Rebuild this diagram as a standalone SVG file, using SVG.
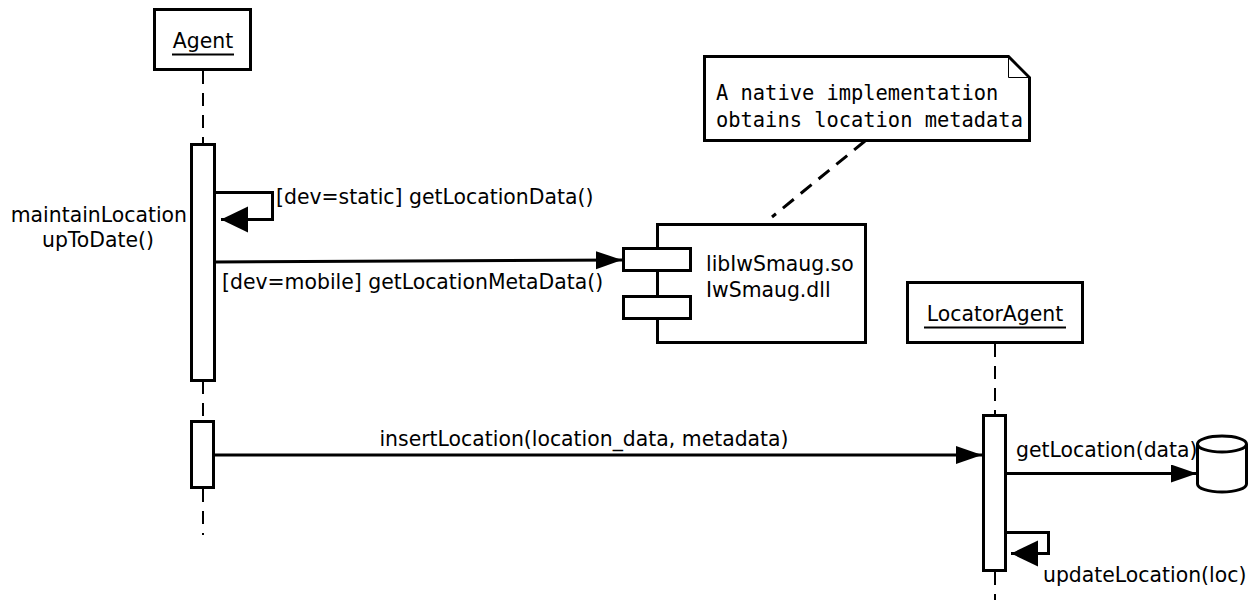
<svg xmlns="http://www.w3.org/2000/svg" width="1257" height="612" viewBox="0 0 1257 612">
<defs>
<style>
.box{fill:#fff;stroke:#000;stroke-width:3}
.act{fill:#fff;stroke:#000;stroke-width:3}
.life{fill:none;stroke:#000;stroke-width:2;stroke-dasharray:13 9}
.msg{fill:none;stroke:#000;stroke-width:3}
.t{font-family:"DejaVu Sans",sans-serif;font-size:20.4px;fill:#000}
.m{font-family:"DejaVu Sans Mono",monospace;font-size:20.4px;fill:#000}
.ul{stroke:#000;stroke-width:2}
</style>
<marker id="arr" markerUnits="userSpaceOnUse" markerWidth="28" markerHeight="20" viewBox="0 0 28 20" refX="26" refY="9" orient="auto">
<path d="M0,0 L26,9 L0,18 Z" fill="#000"/>
</marker>
<marker id="arrS" markerUnits="userSpaceOnUse" markerWidth="29" markerHeight="28" viewBox="0 0 29 28" refX="27" refY="13" orient="auto">
<path d="M0,0 L27,13 L0,26 Z" fill="#000"/>
</marker>
</defs>

<g id="agent">
<rect class="box" x="154.5" y="9.5" width="96" height="60"/>
<text class="t" x="203" y="48" text-anchor="middle">Agent</text>
<line class="ul" x1="172" y1="54.5" x2="234" y2="54.5"/>
<line class="life" x1="203" y1="71" x2="203" y2="143"/>
<line class="life" x1="203" y1="381" x2="203" y2="420"/>
<line class="life" x1="203" y1="489" x2="203" y2="535"/>
<rect class="act" x="191.5" y="144.5" width="23" height="236"/>
<rect class="act" x="191.5" y="421.5" width="22" height="66"/>
</g>

<g id="locatorAgent">
<rect class="box" x="907.5" y="282.5" width="175" height="60"/>
<text class="t" x="995" y="321" text-anchor="middle">LocatorAgent</text>
<line class="ul" x1="924" y1="327.5" x2="1066" y2="327.5"/>
<line class="life" x1="995" y1="344" x2="995" y2="414"/>
<line class="life" x1="995" y1="572" x2="995" y2="600"/>
<rect class="act" x="983.5" y="415.5" width="22" height="155"/>
</g>

<g id="component">
<rect class="box" x="657.5" y="224.5" width="208" height="118"/>
<rect class="box" x="623.5" y="248.5" width="67" height="22"/>
<rect class="box" x="623.5" y="296.5" width="67" height="22"/>
<text class="t" x="706" y="271">libIwSmaug.so</text>
<text class="t" x="706" y="297">IwSmaug.dll</text>
</g>

<g id="note">
<path class="box" d="M704.5,56.5 H1008.5 L1029.5,77.5 V140.5 H704.5 Z"/>
<path d="M1008.5,56.5 V77.5 H1029.5" fill="none" stroke="#000" stroke-width="1"/>
<text class="m" x="716" y="100">A native implementation</text>
<text class="m" x="716" y="127">obtains location metadata</text>
</g>

<g id="database">
<path class="box" d="M1197.5,444 V484 A24.5,8 0 0 0 1246.5,484 V444"/>
<ellipse class="box" cx="1222" cy="444" rx="24.5" ry="8"/>
</g>

<g id="connectors">
<line x1="865" y1="141" x2="772" y2="217" fill="none" stroke="#000" stroke-width="3" stroke-dasharray="14 9"/>
<path class="msg" d="M215,192.5 H272.5 V219.5 H221" marker-end="url(#arrS)"/>
<line class="msg" x1="215" y1="262" x2="622" y2="260" marker-end="url(#arr)"/>
<line class="msg" x1="215" y1="455" x2="982" y2="455" marker-end="url(#arr)"/>
<line class="msg" x1="1007" y1="473.5" x2="1197" y2="473.5" marker-end="url(#arr)"/>
<path class="msg" d="M1007,532.5 H1048.5 V553.5 H1011" marker-end="url(#arrS)"/>
</g>

<g id="labels">
<text class="t" x="276" y="204">[dev=static] getLocationData()</text>
<text class="t" x="187" y="222" text-anchor="end">maintainLocation</text>
<text class="t" x="98" y="247" text-anchor="middle">upToDate()</text>
<text class="t" x="222" y="289">[dev=mobile] getLocationMetaData()</text>
<text class="t" x="584" y="446" text-anchor="middle">insertLocation(location_data, metadata)</text>
<text class="t" x="1016" y="457">getLocation(data)</text>
<text class="t" x="1043" y="582">updateLocation(loc)</text>
</g>
</svg>
